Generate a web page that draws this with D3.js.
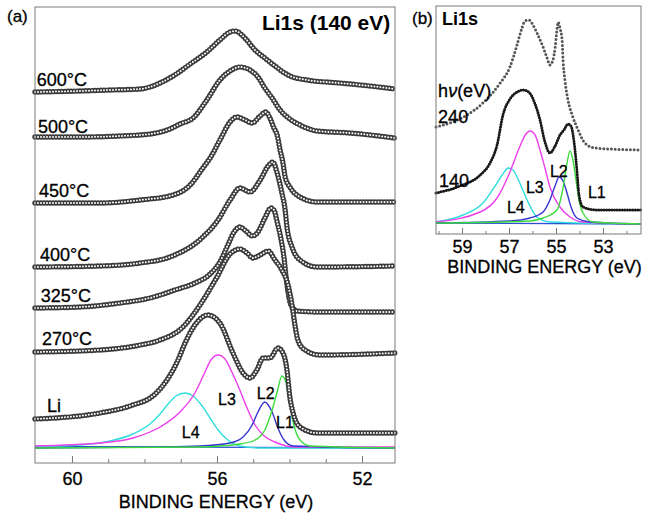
<!DOCTYPE html>
<html>
<head>
<meta charset="utf-8">
<script src="https://cdn.jsdelivr.net/npm/d3@7"></script>
<style>
    body { margin: 0; background: #fff; }
    svg { display: block; }
    text { font-family: Arial, "Liberation Sans", sans-serif; }
</style>
</head>
<body>
<svg id="drawing_region" width="648" height="513"></svg>
<script>
// ---- (a) Li1s at 140 eV, spectra stacked by temperature: [binding energy (eV), intensity (a.u.)]
const li600 = [[61.02,3.71],[59.78,3.72],[58.95,3.73],[58.12,3.74],[57.85,3.76],[57.57,3.80],[57.21,3.87],[56.74,3.99],[56.28,4.11],[55.92,4.23],[55.64,4.31],[55.50,4.32],[55.23,4.25],[54.95,4.13],[54.68,4.05],[54.40,3.97],[53.99,3.87],[53.52,3.83],[52.61,3.80],[51.78,3.77],[51.09,3.74]];
const li500 = [[61.02,3.26],[59.78,3.26],[58.68,3.27],[57.85,3.29],[57.30,3.34],[57.02,3.39],[56.66,3.45],[56.28,3.63],[55.92,3.83],[55.64,3.92],[55.37,3.96],[55.09,3.93],[54.87,3.86],[54.68,3.75],[54.48,3.65],[54.26,3.53],[53.99,3.44],[53.71,3.38],[53.24,3.32],[52.33,3.30],[51.09,3.25]];
const li450 = [[61.02,2.60],[59.23,2.60],[58.12,2.63],[57.21,2.68],[56.74,2.78],[56.39,2.95],[56.19,3.05],[55.92,3.23],[55.64,3.41],[55.45,3.46],[55.23,3.43],[55.03,3.40],[54.81,3.47],[54.65,3.51],[54.54,3.45],[54.43,3.35],[54.34,3.28],[54.26,3.13],[54.18,3.00],[54.12,2.86],[53.99,2.76],[53.71,2.66],[53.24,2.61],[51.09,2.61]];
const li400 = [[61.02,1.96],[59.23,1.97],[58.12,2.00],[57.30,2.06],[56.39,2.26],[55.97,2.43],[55.64,2.63],[55.37,2.75],[55.09,2.71],[54.81,2.83],[54.59,2.97],[54.46,3.01],[54.34,2.90],[54.21,2.70],[54.12,2.53],[54.07,2.36],[53.93,2.16],[53.71,2.03],[53.24,1.96],[51.09,1.97]];
const li325 = [[61.02,1.55],[59.78,1.56],[58.68,1.60],[57.85,1.65],[57.16,1.73],[56.61,1.80],[56.19,1.89],[55.92,2.01],[55.70,2.18],[55.53,2.31],[55.37,2.36],[55.20,2.32],[55.03,2.27],[54.87,2.31],[54.68,2.45],[54.51,2.55],[54.43,2.53],[54.34,2.41],[54.23,2.23],[54.15,2.05],[54.10,1.88],[54.04,1.71],[53.96,1.58],[53.79,1.52],[53.16,1.51],[51.09,1.51]];
const li270 = [[61.02,1.11],[59.23,1.13],[58.12,1.18],[57.57,1.23],[56.94,1.36],[56.47,1.58],[56.00,1.86],[55.64,2.09],[55.37,2.14],[55.17,2.10],[55.01,2.05],[54.81,2.08],[54.59,2.12],[54.40,2.03],[54.21,1.93],[54.04,1.78],[53.93,1.58],[53.85,1.38],[53.77,1.23],[53.57,1.13],[53.16,1.08],[51.09,1.10]];
const liMetal = [[61.02,0.44],[59.23,0.50],[58.32,0.58],[57.77,0.67],[57.38,0.83],[57.10,1.01],[56.88,1.20],[56.61,1.38],[56.25,1.48],[55.92,1.40],[55.56,1.10],[55.28,0.90],[55.09,0.85],[54.90,0.93],[54.73,1.05],[54.54,1.05],[54.32,1.15],[54.18,1.10],[54.07,0.93],[53.99,0.66],[53.90,0.50],[53.71,0.36],[53.24,0.30],[52.06,0.30],[51.09,0.30]];

// fit components of the Li spectrum
const fitL1 = [[61.02,0.15],[56.47,0.16],[55.37,0.19],[54.95,0.23],[54.68,0.33],[54.48,0.53],[54.34,0.71],[54.21,0.87],[54.10,0.81],[53.99,0.58],[53.88,0.38],[53.71,0.23],[53.43,0.17],[51.09,0.15]];
const fitL2 = [[61.02,0.15],[57.85,0.16],[56.47,0.17],[55.64,0.20],[55.28,0.26],[55.03,0.38],[54.87,0.51],[54.68,0.61],[54.48,0.51],[54.32,0.35],[54.15,0.23],[53.90,0.17],[51.09,0.15]];
const fitL3 = [[61.02,0.17],[59.23,0.20],[58.32,0.25],[57.57,0.36],[57.02,0.51],[56.61,0.70],[56.33,0.91],[56.17,1.03],[55.97,1.08],[55.78,1.04],[55.59,0.91],[55.37,0.73],[55.17,0.55],[54.95,0.38],[54.73,0.28],[54.40,0.21],[53.85,0.16],[51.09,0.16]];
const fitL4 = [[61.02,0.165],[59.78,0.18],[58.95,0.22],[58.32,0.29],[57.85,0.39],[57.57,0.49],[57.35,0.59],[57.13,0.67],[56.88,0.70],[56.66,0.67],[56.41,0.57],[56.19,0.45],[55.97,0.33],[55.70,0.23],[55.37,0.17],[54.81,0.15],[51.09,0.15]];
const fitBg = [[61.02,0.165],[51.09,0.15]];

// ---- (b) Li1s at two photon energies
const hv240 = [[60.11,1.07],[58.79,1.19],[58.11,1.31],[57.38,1.51],[56.96,1.67],[56.66,1.89],[56.45,2.06],[56.32,2.13],[56.15,2.14],[55.98,2.09],[55.77,1.99],[55.55,1.87],[55.38,1.76],[55.26,1.69],[55.13,1.74],[55.04,1.86],[54.96,2.04],[54.91,2.12],[54.83,2.06],[54.74,1.94],[54.70,1.74],[54.62,1.54],[54.49,1.34],[54.28,1.17],[54.06,1.04],[53.77,0.91],[53.34,0.86],[51.38,0.84]];
const hv140 = [[60.11,0.41],[59.09,0.48],[58.23,0.59],[57.81,0.71],[57.51,0.89],[57.26,1.19],[56.96,1.35],[56.66,1.42],[56.40,1.44],[56.23,1.43],[56.06,1.39],[55.89,1.30],[55.68,1.14],[55.47,0.92],[55.26,0.81],[55.04,0.88],[54.83,0.99],[54.66,1.04],[54.49,1.10],[54.36,1.08],[54.23,0.92],[54.11,0.64],[54.02,0.39],[53.85,0.27],[53.26,0.24],[51.38,0.24]];
const bL1 = [[60.11,0.11],[56.11,0.13],[55.55,0.16],[54.96,0.24],[54.70,0.46],[54.53,0.71],[54.40,0.83],[54.28,0.74],[54.15,0.54],[54.02,0.34],[53.85,0.21],[53.43,0.12],[51.38,0.10]];
const bL2 = [[60.11,0.11],[56.96,0.13],[56.11,0.16],[55.55,0.22],[55.26,0.34],[55.04,0.48],[54.87,0.57],[54.70,0.53],[54.53,0.41],[54.36,0.27],[54.11,0.16],[53.55,0.12],[51.38,0.10]];
const bL3 = [[60.11,0.12],[58.23,0.22],[57.51,0.36],[56.96,0.62],[56.53,0.88],[56.28,1.00],[56.11,1.03],[55.89,0.99],[55.68,0.84],[55.47,0.66],[55.26,0.47],[54.83,0.27],[54.40,0.17],[53.85,0.12],[51.38,0.10]];
const bL4 = [[60.11,0.12],[58.96,0.19],[58.11,0.31],[57.51,0.51],[57.26,0.60],[57.04,0.66],[56.83,0.64],[56.66,0.57],[56.45,0.46],[56.23,0.34],[56.02,0.24],[55.81,0.17],[55.26,0.12],[51.38,0.10]];
const bBg = [[60.11,0.11],[51.38,0.10]];

const tempLabels = ['600°C', '500°C', '450°C', '400°C', '325°C', '270°C', 'Li'];
const peakLabels = ['L1', 'L2', 'L3', 'L4'];
const ticksMajorA = [60, 56, 52];
const ticksMinorA = [59, 58, 57, 55, 54, 53];
const ticksMajorB = [59, 57, 55, 53];
const ticksMinorB = [60, 58, 56, 54, 52];

const colors = { L1: '#3ddc3d', L2: '#3434d0', L3: '#ec3fec', L4: '#30dcdc', bg: '#3050d8' };


class SpectraPanel {

    constructor( config ) {
        this.config = {
            parent: config.parent,
            left: config.left,
            top: config.top,
            width: config.width,
            height: config.height,
            xdomain: config.xdomain,
            ydomain: config.ydomain
        };
        this.init();
    }

    init() {
        let self = this;

        self.chart = d3.select( self.config.parent ).append('g')
            .attr('transform', `translate(${self.config.left}, ${self.config.top})`);

        self.xscale = d3.scaleLinear()
            .domain( self.config.xdomain )
            .range( [0, self.config.width] );

        self.yscale = d3.scaleLinear()
            .domain( self.config.ydomain )
            .range( [self.config.height, 0] );

        self.line = d3.line()
            .x( d => self.xscale( d[0] ) )
            .y( d => self.yscale( d[1] ) )
            .curve( d3.curveMonotoneX );
    }

    axis( major, minor, major_len, minor_len, padding ) {
        let self = this;

        const g = self.chart.append('g')
            .attr('transform', `translate(0, ${self.config.height})`);

        g.append('g')
            .call( d3.axisBottom( self.xscale ).tickValues( minor ).tickSize( -minor_len ).tickFormat('') );
        g.append('g')
            .call( d3.axisBottom( self.xscale ).tickValues( major ).tickSize( -major_len )
                .tickPadding( padding ).tickFormat( d3.format('d') ) );

        g.selectAll('.domain').remove();
        g.selectAll('line').attr('stroke', '#7a7a7a');
        g.selectAll('text')
            .attr('font-size', 18)
            .attr('font-family', 'Arial, "Liberation Sans", sans-serif')
            .attr('fill', '#000')
            .attr('stroke', '#000')
            .attr('stroke-width', 0.3);
    }

    frame() {
        let self = this;
        self.chart.append('rect')
            .attr('x', 0)
            .attr('y', 0)
            .attr('width', self.config.width)
            .attr('height', self.config.height)
            .attr('fill', 'none')
            .attr('stroke', '#7a7a7a')
            .attr('stroke-width', 1);
    }

    curve( data, color, width ) {
        let self = this;
        self.chart.append('path')
            .attr('d', self.line( data ))
            .attr('fill', 'none')
            .attr('stroke', color)
            .attr('stroke-width', width);
    }

    // open circle markers along the spectrum
    rings( data ) {
        let self = this;
        const d = self.line( data );
        self.chart.append('path')
            .attr('d', d)
            .attr('fill', 'none')
            .attr('stroke', '#3a3a3a')
            .attr('stroke-width', 5.4)
            .attr('stroke-linecap', 'round')
            .attr('stroke-dasharray', '0 3');
        self.chart.append('path')
            .attr('d', d)
            .attr('fill', 'none')
            .attr('stroke', '#fff')
            .attr('stroke-width', 2.0)
            .attr('stroke-linecap', 'round')
            .attr('stroke-dasharray', '0 3');
    }

    // filled dot markers along the spectrum
    dots( data, color, size, gap ) {
        let self = this;
        self.chart.append('path')
            .attr('d', self.line( data ))
            .attr('fill', 'none')
            .attr('stroke', color)
            .attr('stroke-width', size)
            .attr('stroke-linecap', 'round')
            .attr('stroke-dasharray', `0 ${gap}`);
    }

    label( x, y, txt, size, weight, anchor ) {
        let self = this;
        return self.chart.append('text')
            .attr('x', self.xscale( x ))
            .attr('y', self.yscale( y ))
            .attr('font-size', size)
            .attr('font-weight', weight || 'normal')
            .attr('text-anchor', anchor || 'start')
            .attr('fill', '#000')
            .attr('stroke', '#000')
            .attr('stroke-width', weight ? 0 : 0.3)
            .text( txt );
    }

    title( txt, dx, dy ) {
        let self = this;
        self.chart.append('text')
            .attr('x', self.config.width / 2 + dx)
            .attr('y', self.config.height + dy)
            .attr('font-size', 18)
            .attr('text-anchor', 'middle')
            .attr('fill', '#000')
            .attr('stroke', '#000')
            .attr('stroke-width', 0.3)
            .text( txt );
    }
}


const svg = d3.select('#drawing_region');

// ---------- panel (a)
const panelA = new SpectraPanel({
    parent: '#drawing_region',
    left: 35, top: 7, width: 360, height: 456,
    xdomain: [61.02, 51.09],
    ydomain: [0, 4.56]
});

panelA.curve( fitBg, colors.bg, 1.4 );
panelA.curve( fitL4, colors.L4, 1.4 );
panelA.curve( fitL3, colors.L3, 1.4 );
panelA.curve( fitL2, colors.L2, 1.4 );
panelA.curve( fitL1, colors.L1, 1.4 );

[li600, li500, li450, li400, li325, li270, liMetal].forEach( d => panelA.rings( d ) );

panelA.frame();
panelA.axis( ticksMajorA, ticksMinorA, 7, 4, 9 );
panelA.title( 'BINDING ENERGY (eV)', 1, 45 );

const tempPos = [[60.97,3.77],[60.94,3.30],[60.91,2.66],[60.88,2.02],[60.86,1.61],[60.83,1.18],[60.69,0.51]];
tempLabels.forEach( (t, i) => panelA.label( tempPos[i][0], tempPos[i][1], t, 18 ) );

const peakPosA = [[54.37,0.35],[54.90,0.64],[55.97,0.58],[56.97,0.25]];
peakLabels.forEach( (t, i) => panelA.label( peakPosA[i][0], peakPosA[i][1], t, 16 ) );

panelA.label( 51.22, 4.33, 'Li1s (140 eV)', 21, 'bold', 'end' );

svg.append('text')
    .attr('x', 7).attr('y', 22)
    .attr('font-size', 17)
    .attr('stroke', '#000')
    .attr('stroke-width', 0.3)
    .text('(a)');

// ---------- panel (b)
const panelB = new SpectraPanel({
    parent: '#drawing_region',
    left: 436, top: 6, width: 205, height: 228,
    xdomain: [60.11, 51.38],
    ydomain: [0, 2.28]
});

panelB.curve( bBg, colors.bg, 1.4 );
panelB.curve( bL4, colors.L4, 1.4 );
panelB.curve( bL3, colors.L3, 1.4 );
panelB.curve( bL2, colors.L2, 1.4 );
panelB.curve( bL1, colors.L1, 1.4 );

panelB.dots( hv240, '#555', 3.0, 3.8 );
panelB.curve( hv140, '#1a1a1a', 1.2 );
panelB.dots( hv140, '#1a1a1a', 3.0, 2.6 );

panelB.frame();
panelB.axis( ticksMajorB, ticksMinorB, 6, 3, 6 );
panelB.title( 'BINDING ENERGY (eV)', 6, 39 );

const peakPosB = [[53.64,0.36],[55.26,0.57],[56.28,0.41],[57.09,0.21]];
peakLabels.forEach( (t, i) => panelB.label( peakPosB[i][0], peakPosB[i][1], t, 16 ) );

panelB.label( 59.85, 2.09, 'Li1s', 18, 'bold' );

const hv = panelB.label( 60.02, 1.37, 'h', 18 );
hv.append('tspan').attr('font-style', 'italic').text('ν');
hv.append('tspan').text('(eV)');
panelB.label( 60.02, 1.11, '240', 18 );
panelB.label( 59.98, 0.47, '140', 18 );

svg.append('text')
    .attr('x', 412).attr('y', 24)
    .attr('font-size', 17)
    .attr('stroke', '#000')
    .attr('stroke-width', 0.3)
    .text('(b)');
</script>
</body>
</html>
